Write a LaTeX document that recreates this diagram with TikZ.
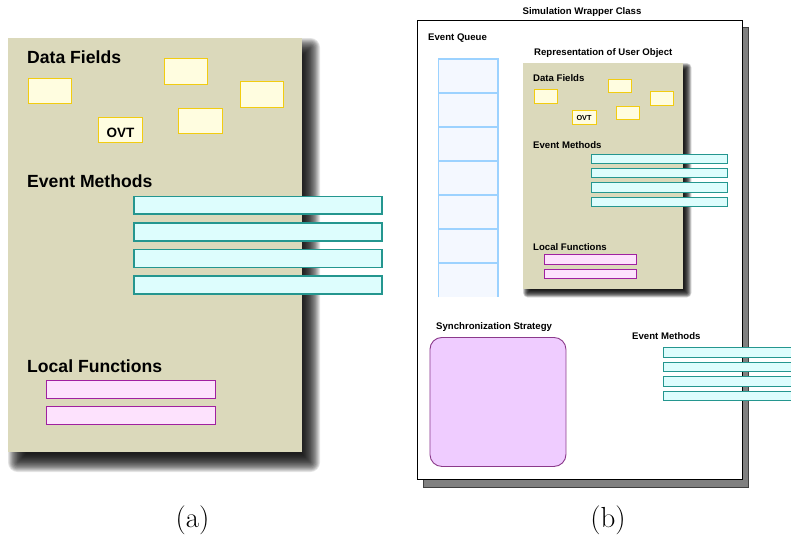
\documentclass[tikz,border=0pt]{standalone}
\usepackage{fontspec}
\newfontfamily\hv{Liberation Sans}
\usetikzlibrary{calc}

\definecolor{tanfill}{HTML}{DBD9BB}
\definecolor{fieldfill}{HTML}{FFFDE0}
\definecolor{fieldline}{HTML}{F2CC10}
\definecolor{evfill}{HTML}{DDFDFD}
\definecolor{evline}{HTML}{24968F}
\definecolor{fnfill}{HTML}{FDE2FD}
\definecolor{fnline}{HTML}{A020A0}
\definecolor{qfill}{HTML}{F4F8FF}
\definecolor{qline}{HTML}{9CD2FF}
\definecolor{syncfill}{HTML}{EFCCFF}
\definecolor{syncline}{HTML}{8B3A8B}
\definecolor{wrapshadow}{HTML}{808080}

% box given by its top-left and bottom-right corners (y grows downwards)
\newcommand\boxnode[7]{%
  \node[#2,anchor=north west,inner sep=0pt,
        minimum width={#5pt-#3pt},minimum height={#6pt-#4pt}] (#1) at (#3,#4) {#7};}

% soft drop shadow over the rectangle (#1,#2)-(#3,#4), blurred by #5 on each side
\newcommand\softshadow[5]{%
  \foreach \k in {0,...,19}{%
    \pgfmathsetmacro\dd{#5*(1-\k/9.5)}%
    \pgfmathsetmacro\rc{max(\dd,0)+0.5}%
    \fill[black,opacity=0.1,rounded corners=\rc pt]
      (#1-\dd,#2-\dd) rectangle (#3+\dd,#4+\dd);
  }}

\begin{document}
\begin{tikzpicture}[x=1pt,y=-1pt,
  tanbox/.style={fill=tanfill,draw=none},
  field/.style={fill=fieldfill,draw=fieldline,line width=1.3pt},
  evbar/.style={fill=evfill,draw=evline,line width=1.5pt},
  fnbar/.style={fill=fnfill,draw=fnline,line width=1.2pt},
  biglbl/.style={anchor=base west,inner sep=0pt,font=\hv\bfseries\fontsize{17.6}{20}\selectfont},
  smalllbl/.style={anchor=base west,inner sep=0pt,font=\hv\bfseries\fontsize{9.6}{11}\selectfont},
  caption/.style={anchor=base,inner sep=0pt,font=\fontsize{29}{32}\selectfont},
]
\useasboundingbox (0,0) rectangle (791,538);
\clip (0,0) rectangle (791,538);

% ---------------- (a) the user object ----------------
\softshadow{17}{47}{311}{463}{9}
\boxnode{objA}{tanbox}{8}{38}{302}{452}{}

\node[biglbl] (dfA) at (27,63.3) {Data Fields};
\boxnode{fA1}{field}{27.5}{77.5}{71}{103}{}
\boxnode{fA2}{field}{163.5}{57.5}{207}{84}{}
\boxnode{fA3}{field}{239.5}{80.5}{283}{107}{}
\boxnode{fA4}{field}{177.5}{107.5}{221.5}{133}{}
\boxnode{fA5}{field}{97.5}{116.5}{141.5}{142}{}
\node[anchor=base,inner sep=0pt,font=\hv\bfseries\fontsize{13.5}{15}\selectfont] (ovtA) at (120.5,137) {OVT};

\node[biglbl] (emA) at (27,187) {Event Methods};
\boxnode{eA1}{evbar}{133}{195.5}{381}{213}{}
\boxnode{eA2}{evbar}{133}{222}{381}{240}{}
\boxnode{eA3}{evbar}{133}{248.5}{381}{266.5}{}
\boxnode{eA4}{evbar}{133}{275}{381}{293}{}

\node[biglbl] (lfA) at (27,372.6) {Local Functions};
\boxnode{lA1}{fnbar}{46}{379.5}{215}{397.5}{}
\boxnode{lA2}{fnbar}{46}{406}{215}{424}{}

\node[caption] (capA) at (192.5,527) {(a)};

% ---------------- (b) the simulation wrapper ----------------
\node[smalllbl,anchor=base] (wrapT) at (582,14) {Simulation Wrapper Class};
\boxnode{wrapS}{fill=wrapshadow,draw=black!75,line width=0.8pt}{422.5}{27}{747.5}{487}{}
\boxnode{wrap}{fill=white,draw=black,line width=1pt}{417}{20}{742}{479}{}

% event queue
\node[smalllbl] (eqT) at (428,40.3) {Event Queue};
\boxnode{queue}{fill=qfill}{438.5}{59}{497.5}{297}{}
\draw[qline,line width=1.2pt] (queue.south west) -- (queue.north west) -- (queue.north east) -- (queue.south east);
\foreach \i in {1,...,6}{
  \draw[qline,line width=1.2pt] ($(queue.north west)+(0,34*\i)$) coordinate (qd\i) -- (qd\i -| queue.east);
}

% representation of the user object
\node[smalllbl] (repT) at (534,55.2) {Representation of User Object};
\softshadow{527}{67}{687.5}{293.5}{4}
\boxnode{objB}{tanbox}{523}{63}{683}{289}{}

\node[smalllbl] (dfB) at (533,81) {Data Fields};
\boxnode{fB1}{field,line width=1.1pt}{533.5}{88.5}{557}{102.5}{}
\boxnode{fB2}{field,line width=1.1pt}{607.5}{78.5}{631}{92}{}
\boxnode{fB3}{field,line width=1.1pt}{649.5}{90.5}{673}{104.5}{}
\boxnode{fB4}{field,line width=1.1pt}{615.5}{105.5}{639}{119}{}
\boxnode{fB5}{field,line width=1.1pt}{571.5}{109.5}{595.5}{124}{}
\node[anchor=base,inner sep=0pt,font=\hv\bfseries\fontsize{7.3}{8}\selectfont] (ovtB) at (584,120.5) {OVT};

\node[smalllbl] (emB) at (533,148) {Event Methods};
\boxnode{eB1}{evbar,line width=1.1pt}{590.5}{153.5}{726.5}{163}{}
\boxnode{eB2}{evbar,line width=1.1pt}{590.5}{167.5}{726.5}{177}{}
\boxnode{eB3}{evbar,line width=1.1pt}{590.5}{182}{726.5}{191.5}{}
\boxnode{eB4}{evbar,line width=1.1pt}{590.5}{196.5}{726.5}{206}{}

\node[smalllbl] (lfB) at (533,250) {Local Functions};
\boxnode{lB1}{fnbar,line width=1pt}{543.5}{254}{635.5}{263.5}{}
\boxnode{lB2}{fnbar,line width=1pt}{543.5}{268.5}{635.5}{278}{}

% synchronization strategy
\node[smalllbl] (ssT) at (436,329) {Synchronization Strategy};
\boxnode{sync}{fill=syncfill,draw=syncline,line width=0.9pt,rounded corners=12pt}{429.5}{337}{565.5}{466}{}

% event methods exported by the wrapper
\node[smalllbl] (emW) at (632,339) {Event Methods};
\boxnode{eW1}{evbar,line width=1.1pt}{662.5}{347}{800}{356.5}{}
\boxnode{eW2}{evbar,line width=1.1pt}{662.5}{361.5}{800}{371}{}
\boxnode{eW3}{evbar,line width=1.1pt}{662.5}{376}{800}{385.5}{}
\boxnode{eW4}{evbar,line width=1.1pt}{662.5}{390.5}{800}{400}{}

\node[caption] (capB) at (608,527) {(b)};
\end{tikzpicture}
\end{document}
